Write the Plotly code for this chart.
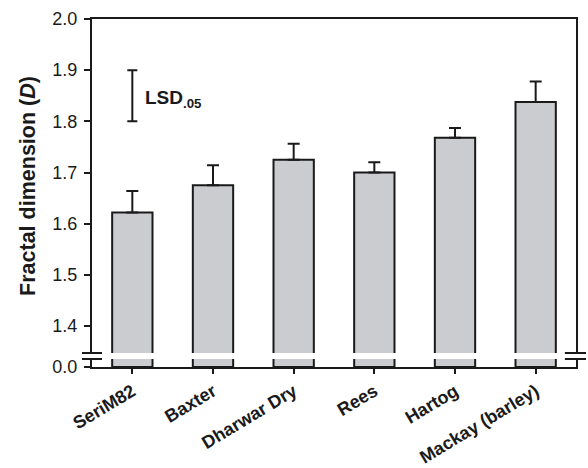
import plotly.graph_objects as go

categories = ["SeriM82", "Baxter", "Dharwar Dry", "Rees", "Hartog", "Mackay (barley)"]
fractal_d = [1.622, 1.675, 1.725, 1.700, 1.768, 1.838]
sem_up = [0.042, 0.039, 0.031, 0.020, 0.019, 0.040]
lsd_center = 1.85
lsd_half = 0.05
y_ticks = [1.4, 1.5, 1.6, 1.7, 1.8, 1.9, 2.0]

FONT = "Liberation Sans, Arial, Helvetica, sans-serif"
BAR_FILL = "#cbcccf"
INK = "#1a1a1a"

fig = go.Figure()

# lower segment (0.0)
fig.add_trace(go.Bar(
    x=categories, y=fractal_d, xaxis="x", yaxis="y",
    width=0.5, marker=dict(color=BAR_FILL, line=dict(color=INK, width=2)),
    showlegend=False, hoverinfo="skip"))

# upper segment
fig.add_trace(go.Bar(
    x=categories, y=fractal_d, xaxis="x2", yaxis="y2",
    width=0.5, marker=dict(color=BAR_FILL, line=dict(color=INK, width=2)),
    error_y=dict(type="data", array=sem_up, arrayminus=[0]*len(sem_up),
                 symmetric=False, color=INK, thickness=2, width=6),
    showlegend=False))

# LSD bar
fig.add_trace(go.Scatter(
    x=[categories[0]], y=[lsd_center], xaxis="x2", yaxis="y2",
    mode="markers", marker=dict(size=1, color=INK),
    error_y=dict(type="constant", value=lsd_half, color=INK, thickness=2, width=5),
    showlegend=False, hoverinfo="skip"))

fig.add_annotation(
    x=categories[0], y=lsd_center, xref="x2", yref="y2",
    text="<b>LSD<sub>.05</sub></b>", showarrow=False,
    xanchor="left", yanchor="middle", xshift=11, yshift=-3,
    font=dict(family=FONT, size=19, color=INK))

lower_top = 0.023
upper_bottom = 0.0402

fig.update_layout(
    width=588, height=468,
    margin=dict(l=92, r=12, t=19, b=101),
    paper_bgcolor="white", plot_bgcolor="white",
    font=dict(family=FONT, color=INK),
    bargap=0.5,
    xaxis=dict(
        domain=[0, 1], anchor="y", range=[-0.5, 5.5], automargin=False,
        showline=True, linecolor=INK, linewidth=2,
        ticks="outside", ticklen=5, tickwidth=2, tickcolor=INK,
        tickangle=-31, showgrid=False, zeroline=False,
        tickfont=dict(family=FONT, size=18, color=INK, weight="bold"),
    ),
    xaxis2=dict(
        domain=[0, 1], anchor="y2", matches="x", side="top", automargin=False,
        showline=True, linecolor=INK, linewidth=2,
        ticks="", showticklabels=False, showgrid=False, zeroline=False,
    ),
    yaxis=dict(
        domain=[0, lower_top], anchor="x", range=[0, 0.02], automargin=False,
        tickvals=[0], ticktext=["0.0"], ticklabelstandoff=3,
        showline=True, mirror=True, linecolor=INK, linewidth=2,
        ticks="outside", ticklen=6, tickwidth=2, tickcolor=INK,
        showgrid=False, zeroline=False,
        tickfont=dict(family=FONT, size=18, color=INK),
    ),
    yaxis2=dict(
        domain=[upper_bottom, 1], anchor="x2", range=[1.3472, 2.0], automargin=False,
        tickvals=y_ticks, ticktext=[f"{v:.1f}" for v in y_ticks], ticklabelstandoff=3,
        showline=True, mirror=True, linecolor=INK, linewidth=2,
        ticks="outside", ticklen=6, tickwidth=2, tickcolor=INK,
        showgrid=False, zeroline=False,
        tickfont=dict(family=FONT, size=18, color=INK),
        title=dict(text="<b>Fractal dimension (<i>D</i>)</b>",
                   font=dict(family=FONT, size=21.5, color=INK), standoff=11),
    ),
)

# axis break marks
for xr in [(-0.0207, 0.0207), (0.977, 1.0207)]:
    fig.add_shape(type="line", xref="paper", yref="y2 domain",
                  x0=xr[0], x1=xr[1], y0=0, y1=0,
                  line=dict(color=INK, width=2))
    fig.add_shape(type="line", xref="paper", yref="y domain",
                  x0=xr[0], x1=xr[1], y0=1, y1=1,
                  line=dict(color=INK, width=2))

fig.write_html("out.html")
